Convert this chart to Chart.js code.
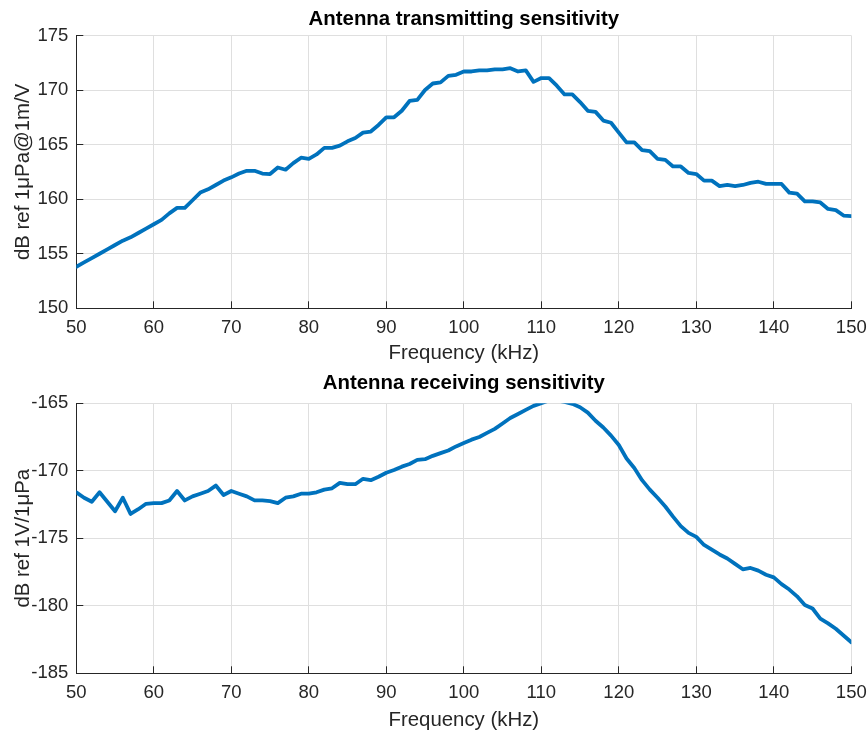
<!DOCTYPE html>
<html>
<head>
<meta charset="utf-8">
<script src="https://cdn.jsdelivr.net/npm/chart.js@4"></script>
<style>
  html, body { margin: 0; padding: 0; background: #fff; }
  #wrap { position: relative; width: 868px; height: 733px; }
  #txChart { position: absolute; left: 0; top: 0; }
  #rxChart { position: absolute; left: 0; top: 366px; }
</style>
</head>
<body>
<div id="wrap">
  <canvas id="txChart" width="868" height="366"></canvas>
  <canvas id="rxChart" width="868" height="367"></canvas>
</div>
<script>
// Frequency points (kHz)
const freq = [
  50, 51, 52, 53, 54, 55, 56, 57, 58, 59,
  60, 61, 62, 63, 64, 65, 66, 67, 68, 69,
  70, 71, 72, 73, 74, 75, 76, 77, 78, 79,
  80, 81, 82, 83, 84, 85, 86, 87, 88, 89,
  90, 91, 92, 93, 94, 95, 96, 97, 98, 99,
  100, 101, 102, 103, 104, 105, 106, 107, 108, 109,
  110, 111, 112, 113, 114, 115, 116, 117, 118, 119,
  120, 121, 122, 123, 124, 125, 126, 127, 128, 129,
  130, 131, 132, 133, 134, 135, 136, 137, 138, 139,
  140, 141, 142, 143, 144, 145, 146, 147, 148, 149,
  150
];

// Transmitting sensitivity (dB ref 1uPa@1m/V)
const txSens = [
  153.8, 154.2, 154.6, 155.0, 155.4, 155.8, 156.2, 156.5, 156.9, 157.3,
  157.7, 158.1, 158.7, 159.2, 159.2, 159.9, 160.6, 160.9, 161.3, 161.7,
  162.0, 162.35, 162.6, 162.6, 162.35, 162.3, 162.9, 162.7, 163.3, 163.8,
  163.7, 164.1, 164.7, 164.7, 164.9, 165.3, 165.6, 166.1, 166.2, 166.8,
  167.5, 167.5, 168.1, 169.0, 169.1, 170.0, 170.6, 170.7, 171.3, 171.4,
  171.7, 171.7, 171.8, 171.8, 171.9, 171.9, 172.0, 171.7, 171.8, 170.75,
  171.1, 171.1, 170.4, 169.6, 169.6, 168.9, 168.1, 168.0, 167.2, 167.0,
  166.1, 165.2, 165.2, 164.5, 164.4, 163.7, 163.6, 163.0, 163.0, 162.4,
  162.3, 161.7, 161.7, 161.2, 161.3, 161.2, 161.3, 161.5, 161.6, 161.4,
  161.4, 161.4, 160.6, 160.5, 159.8, 159.8, 159.7, 159.1, 159.0, 158.5,
  158.45
];

// Receiving sensitivity (dB ref 1V/1uPa)
const rxSens = [
  -171.6, -172.0, -172.3, -171.6, -172.3, -173.0, -172.0, -173.2, -172.85, -172.45,
  -172.4, -172.4, -172.2, -171.5, -172.2, -171.9, -171.7, -171.5, -171.1, -171.8,
  -171.5, -171.7, -171.9, -172.2, -172.2, -172.25, -172.4, -172.0, -171.9, -171.7,
  -171.7, -171.6, -171.4, -171.3, -170.9, -171.0, -171.0, -170.6, -170.7, -170.45,
  -170.15, -169.95, -169.7, -169.5, -169.2, -169.15, -168.9, -168.7, -168.5, -168.2,
  -167.95, -167.7, -167.5, -167.2, -166.9, -166.5, -166.1, -165.8, -165.5, -165.2,
  -165.0, -164.8, -164.8, -164.9, -165.05, -165.3, -165.7, -166.3, -166.8, -167.4,
  -168.1, -169.1, -169.8, -170.7, -171.4, -172.0, -172.65, -173.4, -174.1, -174.6,
  -174.9, -175.5, -175.85, -176.2, -176.5, -176.9, -177.3, -177.2, -177.4, -177.7,
  -177.9, -178.4, -178.8, -179.3, -179.95, -180.2, -180.95, -181.3, -181.7, -182.2,
  -182.7
];

const FONT = "'Liberation Sans', Arial, Helvetica, sans-serif";
const AXIS_COLOR = '#262626';
const GRID_COLOR = '#dfdfdf';
const LINE_COLOR = '#0072BD';

function makeChart(canvasId, opts) {
  const ctx = document.getElementById(canvasId);
  return new Chart(ctx, {
    type: 'line',
    data: {
      labels: freq,
      datasets: [{
        data: opts.values,
        borderColor: LINE_COLOR,
        borderWidth: 3.8,
        pointRadius: 0,
        tension: 0,
        fill: false,
        borderJoinStyle: 'round',
        borderCapStyle: 'round'
      }]
    },
    options: {
      responsive: false,
      animation: false,
      events: [],
      layout: { padding: { left: 0, right: 16.7, top: 0, bottom: 0 } },
      plugins: {
        legend: { display: false },
        tooltip: { enabled: false },
        title: {
          display: true,
          fullSize: false,
          text: opts.title,
          color: '#000',
          font: { family: FONT, size: 20.4, weight: 'bold' },
          padding: opts.titlePad
        }
      },
      scales: {
        x: {
          type: 'linear',
          min: 50,
          max: 150,
          afterFit: s => {
            s.height = opts.xHeight;
            s.paddingLeft = 0;
            s.paddingRight = 0;
          },
          ticks: {
            stepSize: 10,
            color: AXIS_COLOR,
            padding: 16,
            maxRotation: 0,
            font: { family: FONT, size: 18.5 }
          },
          grid: { color: GRID_COLOR, tickColor: AXIS_COLOR, tickLength: -7, drawTicks: true },
          border: { color: AXIS_COLOR, width: 1 },
          title: {
            display: true,
            text: 'Frequency (kHz)',
            color: AXIS_COLOR,
            font: { family: FONT, size: 20.4 },
            padding: { top: 0, bottom: opts.xTitleBottom }
          }
        },
        y: {
          min: opts.yMin,
          max: opts.yMax,
          afterFit: s => {
            s.width = 76.3;
            s.paddingTop = 0;
            s.paddingBottom = 0;
          },
          ticks: {
            stepSize: 5,
            color: AXIS_COLOR,
            padding: 15,
            font: { family: FONT, size: 18.5 }
          },
          grid: { color: GRID_COLOR, tickColor: AXIS_COLOR, tickLength: -7, drawTicks: true },
          border: { color: AXIS_COLOR, width: 1 },
          title: {
            display: true,
            text: opts.yTitle,
            color: AXIS_COLOR,
            font: { family: FONT, size: 20.4 },
            padding: { top: 11.5, bottom: 0 }
          }
        }
      }
    }
  });
}

makeChart('txChart', {
  values: txSens,
  title: 'Antenna transmitting sensitivity',
  titlePad: { top: 7.5, bottom: 3.5 },
  yMin: 150,
  yMax: 175,
  yTitle: 'dB ref 1\u03bcPa@1m/V',
  xHeight: 57.7,
  xTitleBottom: 0
});

makeChart('rxChart', {
  values: rxSens,
  title: 'Antenna receiving sensitivity',
  titlePad: { top: 5.5, bottom: 7.2 },
  yMin: -185,
  yMax: -165,
  yTitle: 'dB ref 1V/1\u03bcPa',
  xHeight: 59.7,
  xTitleBottom: 0.8
});
</script>
</body>
</html>
